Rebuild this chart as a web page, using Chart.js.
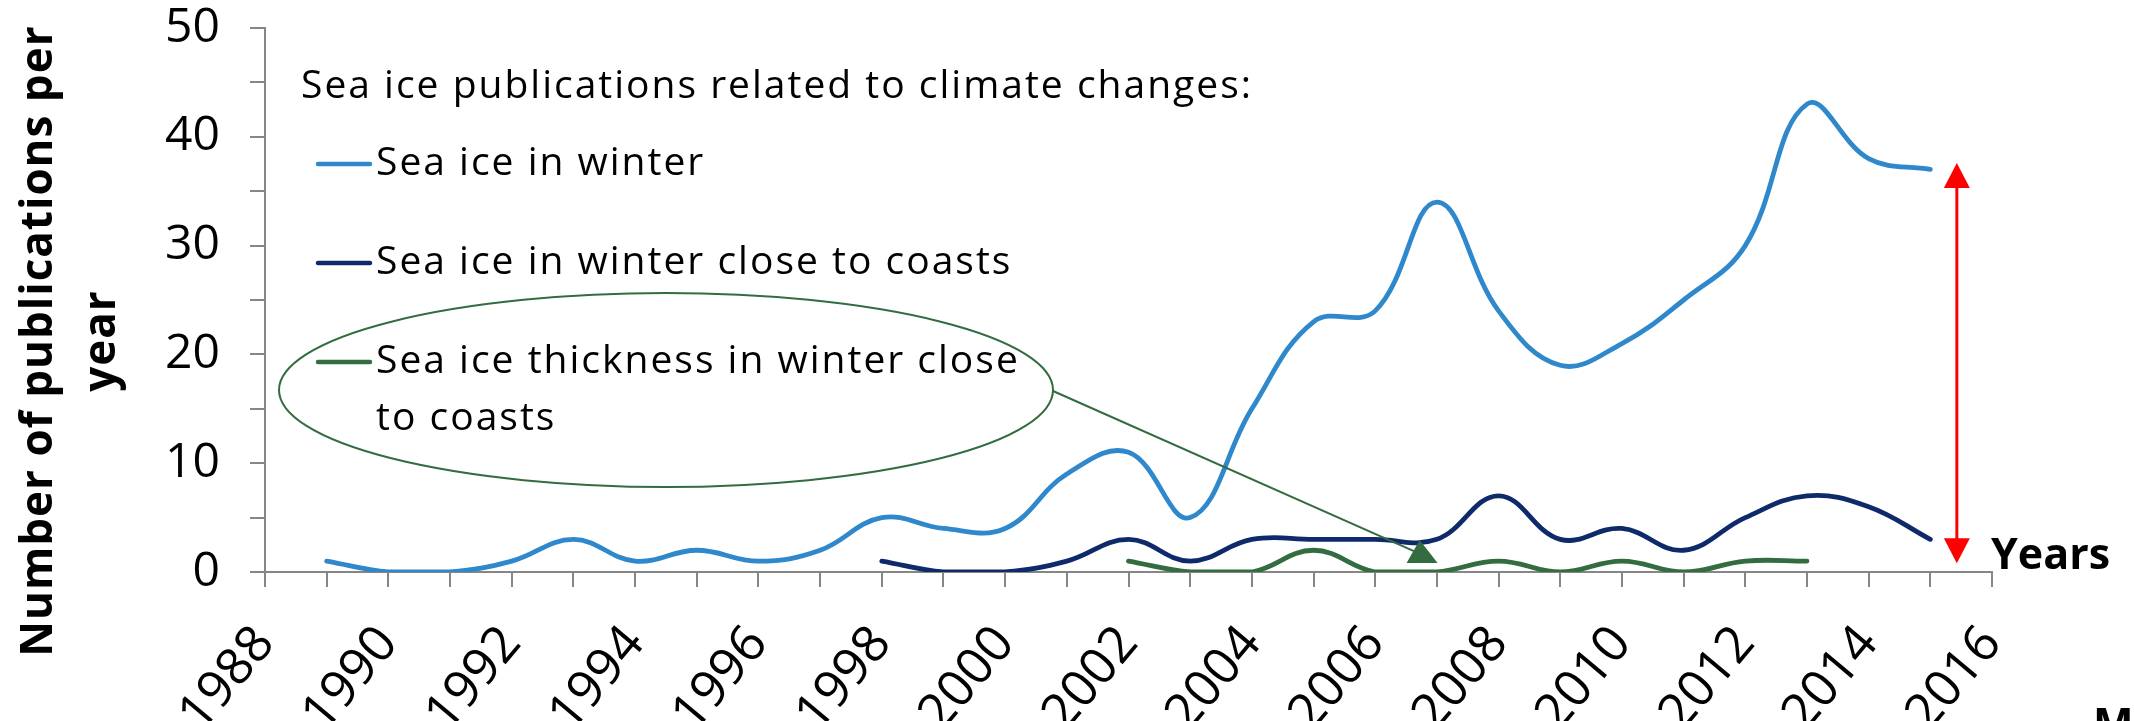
<!DOCTYPE html>
<html>
<head>
<meta charset="utf-8">
<script src="https://cdn.jsdelivr.net/npm/chart.js@4.4.1/dist/chart.umd.min.js"></script>
<style>
  html, body { margin: 0; padding: 0; background: #fff; }
  #wrap { width: 2134px; height: 721px; }
</style>
</head>
<body>
<div id="wrap"><canvas id="chartPub" width="2134" height="721"></canvas></div>
<script>
// Publication counts per year
const yearsWinter = [1989, 1990, 1991, 1992, 1993, 1994, 1995, 1996, 1997, 1998, 1999, 2000, 2001, 2002,
                     2003, 2004, 2005, 2006, 2007, 2008, 2009, 2010, 2011, 2012, 2013, 2014, 2015];
const pubsWinter  = [1, 0, 0, 1, 3, 1, 2, 1, 2, 5, 4, 4, 9, 11, 5, 15, 23, 24, 34, 24, 19, 21, 25, 30, 43, 38, 37];

const yearsCoast = [1998, 1999, 2000, 2001, 2002, 2003, 2004, 2005, 2006, 2007, 2008, 2009, 2010, 2011, 2012, 2013, 2014, 2015];
const pubsCoast  = [1, 0, 0, 1, 3, 1, 3, 3, 3, 3, 7, 3, 4, 2, 5, 7, 6, 3];

const yearsThick = [2002, 2003, 2004, 2005, 2006, 2007, 2008, 2009, 2010, 2011, 2012, 2013];
const pubsThick  = [1, 0, 0, 2, 0, 0, 1, 0, 1, 0, 1, 1];

const seriesNames = ['Sea ice in winter', 'Sea ice in winter close to coasts', 'Sea ice thickness in winter close to coasts'];
const seriesColors = ['#2F88CB', '#0E2A6A', '#326C3F'];
const legendTitle = 'Sea ice publications related to climate changes:';
const yTitleLines = ['Number of publications per', 'year'];
const xTitle = 'Years';
const X_MIN = 1988, X_MAX = 2016;
const Y_MIN = 0, Y_MAX = 50;

const FONT = "'Open Sans', sans-serif";
const AXIS_GREY = '#868686';

function toPoints(years, values) {
  return years.map((yr, i) => ({ x: yr, y: values[i] }));
}

// Legend, callout and arrows drawn on top of the chart
const decoPlugin = {
  id: 'deco',
  afterDraw(chart) {
    const ctx = chart.ctx;
    const sx = chart.scales.x, sy = chart.scales.y;
    ctx.save();

    // y axis title (two lines, rotated)
    ctx.fillStyle = '#000';
    ctx.font = `bold 44px ${FONT}`;
    ctx.letterSpacing = '1px';
    ctx.textAlign = 'center';
    ctx.textBaseline = 'middle';
    [39, 102].forEach((cx, i) => {
      ctx.save();
      ctx.translate(cx, 341);
      ctx.rotate(-Math.PI / 2);
      ctx.fillText(yTitleLines[i], 0, 0);
      ctx.restore();
    });

    // legend
    ctx.textAlign = 'left';
    ctx.font = `39px ${FONT}`;
    ctx.letterSpacing = '2px';
    ctx.fillText(legendTitle, 301, 87);
    const rows = [[seriesNames[0]], [seriesNames[1]], ['Sea ice thickness in winter close', 'to coasts']];
    const rowY = [164, 263, 362];
    rows.forEach((lines, i) => {
      ctx.strokeStyle = seriesColors[i];
      ctx.lineWidth = 4.5;
      ctx.lineCap = 'round';
      ctx.beginPath();
      ctx.moveTo(318, rowY[i]);
      ctx.lineTo(370, rowY[i]);
      ctx.stroke();
      lines.forEach((t, k) => ctx.fillText(t, 376, rowY[i] + k * 57));
    });
    ctx.letterSpacing = '0px';

    // green callout ellipse + pointer
    ctx.strokeStyle = seriesColors[2];
    ctx.lineWidth = 2;
    ctx.beginPath();
    ctx.ellipse(666, 390, 387, 97, 0, 0, Math.PI * 2);
    ctx.stroke();
    const tipX = sx.getPixelForValue(2006.72), tipY = sy.getPixelForValue(2.95);
    const baseY = sy.getPixelForValue(0.83);
    ctx.beginPath();
    ctx.moveTo(1053, 391);
    ctx.lineTo(tipX - 4, tipY + 12);
    ctx.stroke();
    ctx.fillStyle = seriesColors[2];
    ctx.beginPath();
    ctx.moveTo(tipX, tipY);
    ctx.lineTo(tipX - 13, baseY);
    ctx.lineTo(tipX + 18, baseY);
    ctx.closePath();
    ctx.fill();

    // red double arrow
    const ax = sx.getPixelForValue(2015.43);
    const aTop = sy.getPixelForValue(37.6), aBot = sy.getPixelForValue(0.8);
    const head = 25, half = 13;
    ctx.strokeStyle = '#FF0000';
    ctx.fillStyle = '#FF0000';
    ctx.lineWidth = 3;
    ctx.lineCap = 'butt';
    ctx.beginPath();
    ctx.moveTo(ax, aTop + head - 2);
    ctx.lineTo(ax, aBot - head + 2);
    ctx.stroke();
    ctx.beginPath();
    ctx.moveTo(ax, aTop); ctx.lineTo(ax - half, aTop + head); ctx.lineTo(ax + half, aTop + head); ctx.closePath();
    ctx.fill();
    ctx.beginPath();
    ctx.moveTo(ax, aBot); ctx.lineTo(ax - half, aBot - head); ctx.lineTo(ax + half, aBot - head); ctx.closePath();
    ctx.fill();

    // axis caption
    ctx.fillStyle = '#000';
    ctx.font = `bold 43px ${FONT}`;
    ctx.textBaseline = 'alphabetic';
    ctx.fillText(xTitle, 1991, 569);
    // cut-off letter in the bottom right corner
    ctx.fillText('M', 2093, 739);

    ctx.restore();
  }
};

Chart.defaults.font.family = FONT;
Chart.defaults.color = '#000';

const chartPub = new Chart(document.getElementById('chartPub'), {
  type: 'line',
  data: {
    datasets: [
      { label: seriesNames[0], data: toPoints(yearsWinter, pubsWinter), borderColor: seriesColors[0] },
      { label: seriesNames[1], data: toPoints(yearsCoast, pubsCoast), borderColor: seriesColors[1] },
      { label: seriesNames[2], data: toPoints(yearsThick, pubsThick), borderColor: seriesColors[2] }
    ]
  },
  options: {
    responsive: false,
    animation: false,
    devicePixelRatio: 1,
    layout: { padding: { top: 28, right: 142, left: 0, bottom: 0 } },
    elements: {
      point: { radius: 0 },
      line: { tension: 0.4, borderWidth: 4.8, fill: false, borderCapStyle: 'round' }
    },
    plugins: {
      legend: { display: false },
      tooltip: { enabled: false }
    },
    scales: {
      x: {
        type: 'linear',
        min: X_MIN,
        max: X_MAX,
        border: { color: AXIS_GREY, width: 2 },
        grid: { drawOnChartArea: false, drawTicks: true, tickLength: 15, color: AXIS_GREY, lineWidth: 2 },
        ticks: {
          stepSize: 1,
          autoSkip: false,
          minRotation: 50,
          maxRotation: 50,
          padding: 28,
          font: { size: 51 },
          callback: v => (v % 2 === 0 ? String(v) : '')
        },
        afterFit: s => { s.height = 149; s.paddingLeft = 0; s.paddingRight = 0; }
      },
      y: {
        min: Y_MIN,
        max: Y_MAX,
        border: { color: AXIS_GREY, width: 2 },
        grid: { drawOnChartArea: false, drawTicks: true, tickLength: 15, color: AXIS_GREY, lineWidth: 2 },
        ticks: {
          stepSize: 5,
          padding: 30,
          font: { size: 48, lineHeight: 1 },
          callback: v => (v % 10 === 0 ? String(v) : '')
        },
        afterFit: s => { s.width = 265; s.paddingTop = 0; s.paddingBottom = 0; }
      }
    }
  },
  plugins: [decoPlugin]
});
</script>
</body>
</html>
